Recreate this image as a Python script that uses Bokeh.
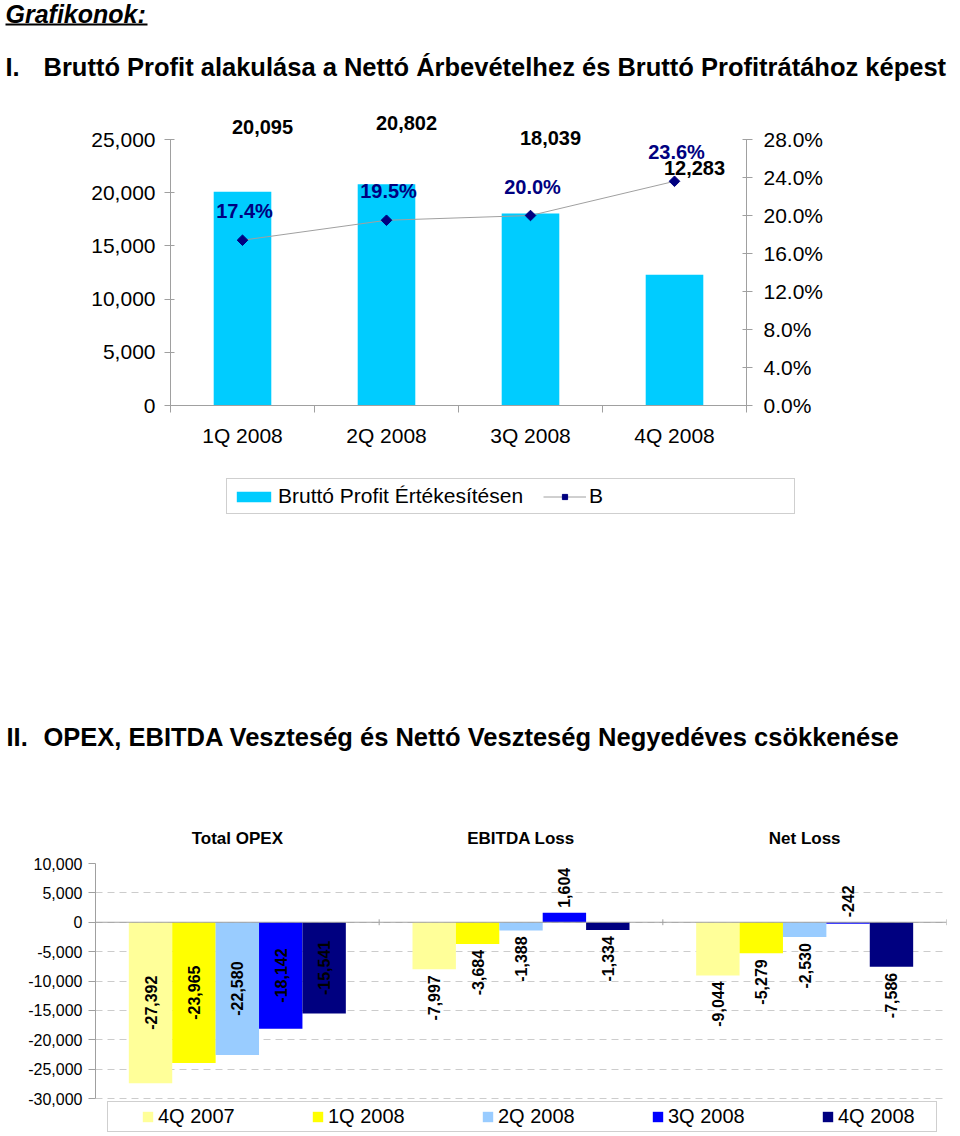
import numpy as np
from bokeh.plotting import figure
from bokeh.models import (Range1d, LinearAxis, FixedTicker, NumeralTickFormatter,
                          PrintfTickFormatter, Legend, LegendItem, FactorRange, Span)
from bokeh.core.properties import value
from bokeh.embed import file_html
from bokeh.resources import INLINE

FONT = "Liberation Sans"
W = 960
GREY = "#a0a0a0"

# ---------------- data ----------------
quarters = ["1Q 2008", "2Q 2008", "3Q 2008", "4Q 2008"]
gross_profit = [20095, 20802, 18039, 12283]
gross_margin = [17.4, 19.5, 20.0, 23.6]

groups = ["Total OPEX", "EBITDA Loss", "Net Loss"]
periods = ["4Q 2007", "1Q 2008", "2Q 2008", "3Q 2008", "4Q 2008"]
opex = [-27392, -23965, -22580, -18142, -15541]
ebitda = [-7997, -3684, -1388, 1604, -1334]
net_loss = [-9044, -5279, -2530, -242, -7586]
period_colors = ["#FFFF99", "#FFFF00", "#99CCFF", "#0000FF", "#000080"]

title_top = "Grafikonok:"
title1_num = "I."
title1 = "Bruttó Profit alakulása a Nettó Árbevételhez és Bruttó Profitrátához képest"
title2_num = "II."
title2 = "OPEX, EBITDA Veszteség és Nettó Veszteség Negyedéves csökkenése"
series1_name = "Bruttó Profit Értékesítésen"
series2_name = "B"

BAR1 = "#00CCFF"
MARK1 = "#000080"


def text_fig(height):
    f = figure(width=W, height=height, x_range=Range1d(0, W), y_range=Range1d(height, 0),
               x_axis_type=None, y_axis_type=None, output_backend="svg",
               toolbar_location=None, min_border=0, outline_line_color=None)
    f.grid.visible = False
    return f


# ---------------- header ----------------
pA = text_fig(100)
pA.text(x=[5], y=[13], text=[title_top], text_font=value(FONT), text_font_size="25px",
        text_font_style="bold italic", text_baseline="middle", text_color="black")
pA.segment(x0=[5], y0=[24], x1=[147], y1=[24], line_color="black", line_width=2)
pA.text(x=[5, 43], y=[66, 66], text=[title1_num, title1], text_font=value(FONT),
        text_font_size="25.5px", text_font_style="bold", text_baseline="middle",
        text_color="black")

# ---------------- chart 1 ----------------
ppu = 266 / 25000.0          # pixels per unit on the left axis
frame_h = 305
pB = figure(width=W, height=360, x_range=Range1d(-0.5, len(quarters) - 0.5),
            y_range=Range1d(0, frame_h / ppu), output_backend="svg",
            toolbar_location=None, min_border_left=170, min_border_right=214,
            min_border_top=0, min_border_bottom=55, outline_line_color=None)
pB.grid.visible = False
pB.extra_y_ranges = {"pct": Range1d(0, 28 * frame_h / 266.0)}

xs = list(range(len(quarters)))
bars = pB.vbar(x=xs, top=gross_profit, width=0.4, color=BAR1, line_color=None)
line = pB.line(xs, gross_margin, y_range_name="pct", color=GREY, line_width=1)
marks = pB.scatter(xs, gross_margin, y_range_name="pct", marker="square", angle=np.pi / 4,
                   size=7.5, color=MARK1)

pB.text(x=xs, y=gross_margin, text=[f"{v:.1f}%" for v in gross_margin], y_range_name="pct",
        x_offset=2, y_offset=-29, text_align="center", text_baseline="middle",
        text_font=value(FONT), text_font_size="20px", text_font_style="bold",
        text_color=MARK1)
pB.text(x=xs, y=[v / 2 for v in gross_profit], text=[f"{v:,}" for v in gross_profit],
        x_offset=20, y_offset=-172, text_align="center", text_baseline="middle",
        text_font=value(FONT), text_font_size="20px", text_font_style="bold",
        text_color="black")

ya = pB.yaxis[0]
ya.ticker = FixedTicker(ticks=list(range(0, 25001, 5000)))
ya.bounds = (0, 25000)
ya.formatter = NumeralTickFormatter(format="0,0")

ra = LinearAxis(y_range_name="pct", ticker=FixedTicker(ticks=list(range(0, 29, 4))),
                bounds=(0, 28), formatter=PrintfTickFormatter(format="%.1f%%"))
pB.add_layout(ra, "right")

for ax in (ya, ra):
    ax.axis_line_color = GREY
    ax.major_tick_line_color = GREY
    ax.major_tick_out = 6
    ax.major_tick_in = 4
    ax.minor_tick_line_color = None
    ax.major_label_text_font = FONT
    ax.major_label_text_font_size = "21px"
    ax.major_label_text_color = "black"
ya.major_label_standoff = 9
ra.major_label_standoff = 11

xa = pB.xaxis[0]
xa.ticker = FixedTicker(ticks=xs, minor_ticks=[i - 0.5 for i in range(len(quarters) + 1)])
xa.major_label_overrides = {i: q for i, q in enumerate(quarters)}
xa.major_tick_line_color = None
xa.major_tick_out = 0
xa.major_tick_in = 0
xa.minor_tick_line_color = GREY
xa.minor_tick_out = 7
xa.minor_tick_in = 0
xa.axis_line_color = GREY
xa.major_label_standoff = 11
xa.major_label_text_font = FONT
xa.major_label_text_font_size = "21px"
xa.major_label_text_color = "black"

# ---------------- chart 1 legend + title II ----------------
pC = text_fig(330)
# legend keys styled like the chart-1 series (they hold no visible data)
nan1 = np.array([np.nan])
kb = pC.vbar(x=nan1, top=nan1, width=1, color=BAR1, line_color=None)
kl = pC.line(x=nan1, y=nan1, color=GREY, line_width=1)
km = pC.scatter(x=nan1, y=nan1, marker="square", angle=np.pi / 4, size=7.5, color=MARK1)
leg1 = Legend(items=[LegendItem(label=series1_name, renderers=[kb]),
                     LegendItem(label=series2_name, renderers=[kl, km])],
              location=(226, 330 - 514 + 460), orientation="horizontal", padding=5,
              spacing=20, glyph_width=43, glyph_height=13, label_standoff=3,
              label_width=200, label_text_font=FONT, label_text_font_size="21px",
              label_text_color="black",
              border_line_color=GREY, border_line_width=1, background_fill_color="white",
              background_fill_alpha=1.0, margin=0)
pC.add_layout(leg1)
pC.text(x=[6, 43], y=[276, 276], text=[title2_num, title2], text_font=value(FONT),
        text_font_size="25.5px", text_font_style="bold", text_baseline="middle",
        text_color="black")

# ---------------- chart 2 ----------------
ppu2 = 235 / 40000.0
frame2_h = 271
pD = figure(width=W, height=346, x_range=FactorRange(*groups),
            y_range=Range1d(10000 - frame2_h / ppu2, 10000),
            x_axis_location="above", output_backend="svg", toolbar_location=None,
            min_border_left=95, min_border_right=14, min_border_top=73,
            min_border_bottom=2, outline_line_color=None)

series = [opex, ebitda, net_loss]
bw = 0.153
legend_items = []
for i, (per, col) in enumerate(zip(periods, period_colors)):
    xpos = [j + 0.5 + (i - 2) * bw for j in range(len(groups))]
    vals = [s[i] for s in series]
    r = pD.vbar(x=xpos, top=vals, bottom=0, width=bw, color=col, line_color=None)
    legend_items.append(LegendItem(label=per, renderers=[r]))

# data labels
inside_x, inside_y, inside_t = [], [], []
below_x, below_y, below_t = [], [], []
above_x, above_y, above_t = [], [], []
for j, s in enumerate(series):
    for i, v in enumerate(s):
        x = j + 0.5 + (i - 2) * bw
        t = f"{v:,}"
        if j == 0:
            inside_x.append(x); inside_y.append(v / 2); inside_t.append(t)
        elif v > -1000:
            above_x.append(x); above_y.append(max(v, 0)); above_t.append(t)
        else:
            below_x.append(x); below_y.append(v); below_t.append(t)

lbl = dict(angle=np.pi / 2, text_baseline="middle", text_font=value(FONT),
           text_font_size="16px", text_font_style="bold", text_color="black")
pD.text(x=inside_x, y=inside_y, text=inside_t, text_align="center", **lbl)
pD.text(x=below_x, y=below_y, text=below_t, text_align="right", y_offset=6, **lbl)
pD.text(x=above_x, y=above_y, text=above_t, text_align="left", y_offset=-5, **lbl)

# zero line and category separators
pD.add_layout(Span(location=0, dimension="width", line_color=GREY, line_width=1))
bounds_x = [float(k) for k in range(1, len(groups) + 1)]
pD.segment(x0=bounds_x, y0=[-500] * len(bounds_x), x1=bounds_x, y1=[500] * len(bounds_x),
           line_color=GREY, line_width=1)

ticks2 = list(range(-30000, 10001, 5000))
yb = pD.yaxis[0]
yb.ticker = FixedTicker(ticks=ticks2)
yb.bounds = (-30000, 10000)
yb.formatter = NumeralTickFormatter(format="0,0")
yb.axis_line_color = GREY
yb.major_tick_line_color = GREY
yb.major_tick_out = 7
yb.major_tick_in = 0
yb.minor_tick_line_color = None
yb.major_label_standoff = 6
yb.major_label_text_font = FONT
yb.major_label_text_font_size = "16px"
yb.major_label_text_color = "black"

xb = pD.xaxis[0]
xb.axis_line_color = None
xb.major_tick_line_color = None
xb.major_tick_out = 0
xb.major_tick_in = 0
xb.minor_tick_line_color = None
xb.major_label_standoff = 16
xb.major_label_text_font = FONT
xb.major_label_text_font_size = "17px"
xb.major_label_text_font_style = "bold"
xb.major_label_text_color = "black"

pD.xgrid.visible = False
pD.ygrid.ticker = FixedTicker(ticks=ticks2)
pD.ygrid.grid_line_color = "#cccccc"
pD.ygrid.grid_line_dash = "7 5"

leg2 = Legend(items=legend_items, location=(12, 2), orientation="horizontal",
              padding=3, spacing=58, glyph_width=13, glyph_height=13, label_standoff=4,
              label_width=95, label_text_font=FONT, label_text_font_size="20px",
              label_text_color="black",
              title=" ", title_location="left", title_text_font_size="4px",
              title_standoff=25,
              border_line_color=GREY, border_line_width=1, background_fill_color="white",
              background_fill_alpha=1.0, margin=0)
pD.add_layout(leg2)

open("out.html", "w").write(file_html([pA, pB, pC, pD], INLINE))
